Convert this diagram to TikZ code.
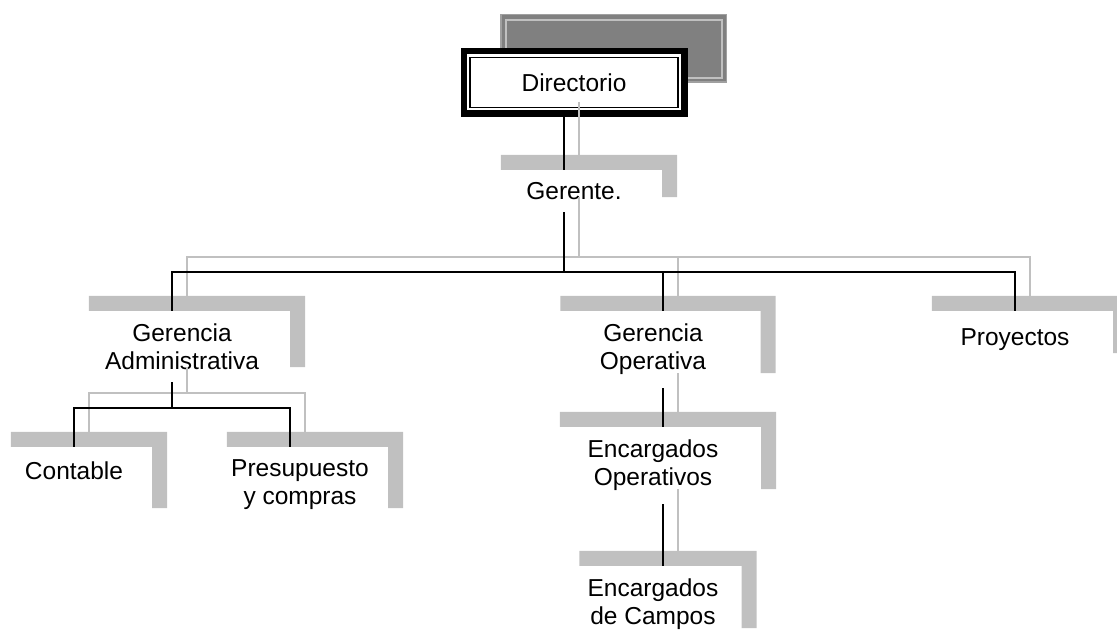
\documentclass[tikz,border=0pt]{standalone}
\usepackage{fontspec}
\setmainfont{Liberation Sans}
\usetikzlibrary{calc}
\definecolor{shadowgray}{RGB}{192,192,192}
\definecolor{boxgray}{RGB}{128,128,128}
\definecolor{rimgray}{RGB}{160,160,160}

\newcommand{\orglinks}{%
	\draw ($(dir.south)+(-10,0)$) -- ($(ger.north)+(-10,0)$);
	\draw ($(ger.south)+(-10,0)$) -- (bus);
	\draw (bus) -| ($(ga.north)+(-10,0)$);
	\draw (bus) -| ($(go.north)+(10,0)$);
	\draw (bus) -| (pro.north);
	\draw ($(ga.south)+(-10,0)$) -- (gabus);
	\draw (gabus) -| (con.north);
	\draw (gabus) -| ($(pre.north)+(-10,0)$);
	\draw ($(go.south)+(10,0)$) -- ($(eo.north)+(10,0)$);
	\draw ($(eo.south)+(10,0)$) -- ($(ec.north)+(10,0)$);}

\begin{document}
\begin{tikzpicture}[x=1pt,y=-1pt,
		unit/.style={inner sep=0pt,align=center,font=\fontsize{24.5}{28}\selectfont},
		link/.style={line width=1.3pt}]
			\useasboundingbox (0,0) rectangle (1117,631);
			\filldraw[fill=boxgray,draw=rimgray,line width=1.5pt] (500.75,14.75) rectangle (726.25,82.25);
			\draw[shadowgray,line width=1.2pt] (506,20) rectangle (722,78);
			\node[unit,draw,fill=white,line width=6.5pt,minimum width=220.5pt,minimum height=62.5pt] (dir) at (574,82.5) {Directorio};
			\draw[line width=1.5pt] ($(dir.north west)+(9.5,9.5)$) rectangle ($(dir.south east)+(-9.5,-9.5)$);
			
			\node[unit,minimum width=176pt,minimum height=42pt] (ger) at (574,191) {Gerente.};
			\node[unit,minimum width=216pt,minimum height=71pt] (ga) at (182,346.5) {Gerencia\\Administrativa};
			\node[unit,minimum width=215pt,minimum height=77pt] (go) at (653,349.5) {Gerencia\\Operativa};
			\node[unit,minimum width=196pt,minimum height=57pt] (pro) at (1015,339.5) {Proyectos};
			\node[unit,minimum width=156pt,minimum height=76pt] (con) at (74,485) {Contable\\\mbox{}};
			\node[unit,minimum width=176pt,minimum height=76pt] (pre) at (300,485) {Presupuesto\\y compras};
			\node[unit,minimum width=216pt,minimum height=77pt] (eo) at (653,465.5) {Encargados\\Operativos};
			\node[unit,minimum width=177pt,minimum height=77pt] (ec) at (653,604.5) {Encargados\\de Campos};
			\coordinate (bus) at (564,272);
			\coordinate (gabus) at (172,408);
			
			\foreach \n in {ger,ga,go,pro,con,pre,eo,ec}
				\fill[shadowgray] ($(\n.north west)+(15,-15)$) -| ($(\n.south east)+(15,-15)$) -- ($(\n.south east)+(0,-15)$) |- ($(\n.north west)+(15,0)$) -- cycle;
			
			\begin{scope}[link,shadowgray,transform canvas={shift={(15,-15)}}]
				\orglinks
			\end{scope}
			\begin{scope}[link]
				\orglinks
			\end{scope}
		\end{tikzpicture}
\end{document}
